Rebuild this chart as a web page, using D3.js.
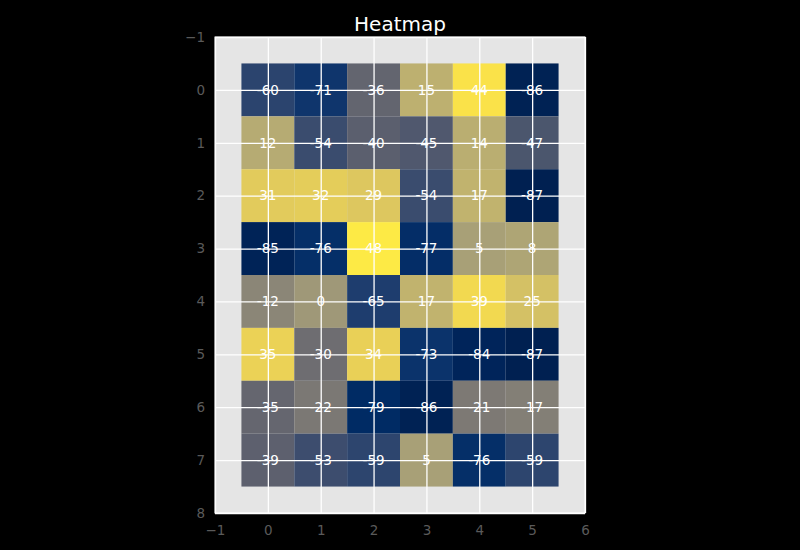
<!DOCTYPE html>
<html>
<head>
<meta charset="utf-8">
<script src="https://cdn.jsdelivr.net/npm/d3@7"></script>
<style>
  body { margin: 0; background: #000; }
  svg { display: block; font-family: "DejaVu Sans", sans-serif; }
</style>
</head>
<body>
<div id="chart"></div>
<script>
const cols = [0, 1, 2, 3, 4, 5];
const rows = [0, 1, 2, 3, 4, 5, 6, 7];
const values = [
  [-60, -71, -36, 15, 44, -86],
  [12, -54, -40, -45, 14, -47],
  [31, 32, 29, -54, 17, -87],
  [-85, -76, 48, -77, 5, 8],
  [-12, 0, -65, 17, 39, 25],
  [35, -30, 34, -73, -84, -87],
  [-35, -22, -79, -86, -21, -17],
  [-39, -53, -59, 5, -76, -59]
];
const xTicks = [-1, 0, 1, 2, 3, 4, 5, 6];
const yTicks = [-1, 0, 1, 2, 3, 4, 5, 6, 7, 8];

const width = 800, height = 550;
const plot = { left: 215, right: 585, top: 37, bottom: 513 };

const svg = d3.select('#chart').append('svg')
  .attr('width', width).attr('height', height);

svg.append('rect').attr('width', width).attr('height', height).attr('fill', '#000');

const x = d3.scaleLinear().domain([-1, 6]).range([plot.left, plot.right]);
const y = d3.scaleLinear().domain([-1, 8]).range([plot.top, plot.bottom]);

const flat = values.flat();
const color = d3.scaleSequential(d3.interpolateCividis)
  .domain([d3.min(flat), d3.max(flat)]);

// plot background
svg.append('rect')
  .attr('x', plot.left).attr('y', plot.top)
  .attr('width', plot.right - plot.left).attr('height', plot.bottom - plot.top)
  .attr('fill', '#e5e5e5');

// cells
const cells = [];
rows.forEach((r, i) => cols.forEach((c, j) => cells.push({ r, c, v: values[i][j] })));

svg.selectAll('.cell')
  .data(cells)
  .enter()
  .append('rect')
  .classed('cell', true)
  .attr('x', d => x(d.c - 0.5))
  .attr('y', d => y(d.r - 0.5))
  .attr('width', x(1) - x(0))
  .attr('height', y(1) - y(0))
  .attr('fill', d => color(d.v));

// grid lines
svg.append('g')
  .attr('transform', `translate(0,${plot.bottom})`)
  .call(d3.axisBottom(x).tickValues(xTicks).tickSize(-(plot.bottom - plot.top)).tickFormat(''))
  .call(g => g.select('.domain').remove())
  .call(g => g.selectAll('line').attr('stroke', '#fff').attr('stroke-width', 1.3));

svg.append('g')
  .attr('transform', `translate(${plot.left},0)`)
  .call(d3.axisLeft(y).tickValues(yTicks).tickSize(-(plot.right - plot.left)).tickFormat(''))
  .call(g => g.select('.domain').remove())
  .call(g => g.selectAll('line').attr('stroke', '#fff').attr('stroke-width', 1.3));

// tick labels
const fmt = d => d < 0 ? '\u2212' + Math.abs(d) : String(d);

svg.append('g')
  .attr('transform', `translate(0,${plot.bottom})`)
  .call(d3.axisBottom(x).tickValues(xTicks).tickSize(0).tickPadding(12).tickFormat(fmt))
  .call(g => g.select('.domain').remove())
  .call(g => g.selectAll('text').attr('fill', '#5a5a5a').attr('font-size', 13.5)
    .attr('font-family', '"DejaVu Sans", sans-serif'));

svg.append('g')
  .attr('transform', `translate(${plot.left},0)`)
  .call(d3.axisLeft(y).tickValues(yTicks).tickSize(0).tickPadding(10).tickFormat(fmt))
  .call(g => g.select('.domain').remove())
  .call(g => g.selectAll('text').attr('fill', '#5a5a5a').attr('font-size', 13.5)
    .attr('font-family', '"DejaVu Sans", sans-serif'));

// frame
svg.append('rect')
  .attr('x', plot.left).attr('y', plot.top)
  .attr('width', plot.right - plot.left).attr('height', plot.bottom - plot.top)
  .attr('fill', 'none').attr('stroke', '#fff').attr('stroke-width', 1);

// cell labels
svg.selectAll('.lbl')
  .data(cells)
  .enter()
  .append('text')
  .classed('lbl', true)
  .attr('x', d => x(d.c))
  .attr('y', d => y(d.r))
  .attr('dy', '0.35em')
  .attr('text-anchor', 'middle')
  .attr('fill', '#fff')
  .attr('font-size', 13.5)
  .text(d => d.v);

svg.append('text')
  .attr('x', (plot.left + plot.right) / 2)
  .attr('y', 31)
  .attr('text-anchor', 'middle')
  .attr('fill', '#fff')
  .attr('font-size', 20)
  .text('Heatmap');
</script>
</body>
</html>
